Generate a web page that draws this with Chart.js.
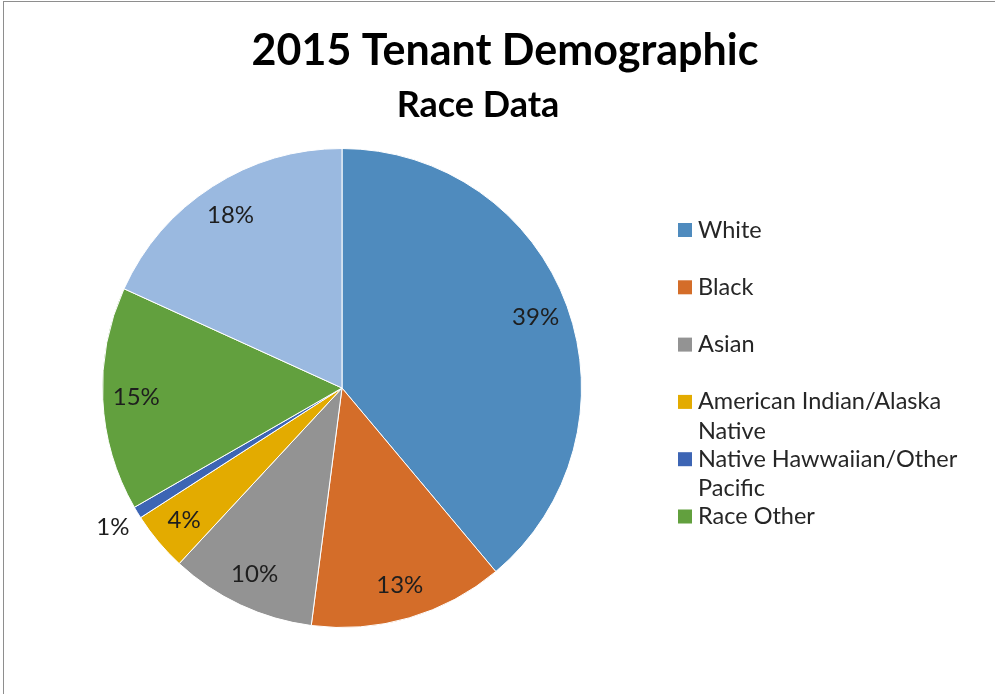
<!DOCTYPE html>
<html>
<head>
<meta charset="utf-8">
<title>2015 Tenant Demographic - Race Data</title>
<script src="https://cdn.jsdelivr.net/npm/chart.js@4.4.1/dist/chart.umd.min.js"></script>
<style>
  html, body { margin: 0; padding: 0; background: #fff; overflow: hidden; }
  #wrap { position: relative; width: 995px; height: 694px; }
  #frame { position: absolute; left: 3px; top: 1px; width: 1100px; height: 800px; border: 1px solid #8e8e8e; box-sizing: border-box; pointer-events: none; }
  canvas { position: absolute; left: 0; top: 0; }
</style>
</head>
<body>
<div id="wrap">
  <canvas id="raceChart" width="995" height="694"></canvas>
  <div id="frame"></div>
</div>
<script>
'use strict';

// data (percent of tenants)
var categories = ["White", "Black", "Asian", "American Indian/Alaska Native", "Native Hawwaiian/Other Pacific", "Race Other", "Two or More Races"];
var legendLines = [["White"], ["Black"], ["Asian"], ["American Indian/Alaska", "Native"], ["Native Hawwaiian/Other", "Pacific"], ["Race Other"]];
var percents = [38.9, 13.15, 9.85, 4.0, 0.8, 15.1, 18.2];
var sliceColors = ["#4f8bbe", "#d46d29", "#939393", "#e3ab00", "#3d65b4", "#62a03e", "#9ab9e0"];

var FONT = "Lato, 'Open Sans', sans-serif";

// titles, data labels and the legend, drawn on the canvas
var decorations = {
    id: 'decorations',
    afterDraw: function(chart) {
        var ctx = chart.ctx;
        ctx.save();
        ctx.textAlign = 'center';
        ctx.textBaseline = 'middle';
        ctx.fillStyle = '#000';
        ctx.font = "bold 43px " + FONT;
        ctx.fillText("2015 Tenant Demographic", 505, 51);
        ctx.font = "bold 36px " + FONT;
        ctx.fillText("Race Data", 478, 105);

        // percentage labels
        var meta = chart.getDatasetMeta(0);
        ctx.font = "24px " + FONT;
        ctx.fillStyle = '#1e1e1e';
        meta.data.forEach(function(arc, i) {
            var p = arc.getProps(['x', 'y', 'startAngle', 'endAngle', 'outerRadius']);
            var mid = (p.startAngle + p.endAngle) / 2;
            var f = percents[i] < 2 ? 1.12 : 0.86;
            var lx = p.x + Math.cos(mid) * p.outerRadius * f;
            var ly = p.y + Math.sin(mid) * p.outerRadius * f;
            ctx.fillText(Math.round(percents[i]) + '%', lx, ly);
        });

        // legend (the light blue slice has no legend entry in the original)
        ctx.textAlign = 'left';
        ctx.font = "23.5px " + FONT;
        var y0 = 230, step = 57.3, lineH = 29.5;
        legendLines.forEach(function(lines, i) {
            var y = y0 + step * i;
            ctx.fillStyle = sliceColors[i];
            ctx.fillRect(678, y - 7, 14, 14);
            ctx.fillStyle = '#262626';
            lines.forEach(function(t, j) {
                ctx.fillText(t, 698, y + j * lineH);
            });
        });
        ctx.restore();
    }
};

var ctx = document.getElementById("raceChart").getContext("2d");
window.myPie = new Chart(ctx, {
    type: 'pie',
    data: {
        labels: categories,
        datasets: [{
            data: percents,
            backgroundColor: sliceColors,
            borderColor: '#ffffff',
            borderWidth: 1,
            hoverOffset: 0
        }]
    },
    options: {
        responsive: false,
        animation: false,
        events: [],
        layout: {
            padding: { left: 102, right: 413, top: 148, bottom: 66 }
        },
        plugins: {
            legend: { display: false },
            title: { display: false },
            tooltip: { enabled: false }
        }
    },
    plugins: [decorations]
});
</script>
</body>
</html>
